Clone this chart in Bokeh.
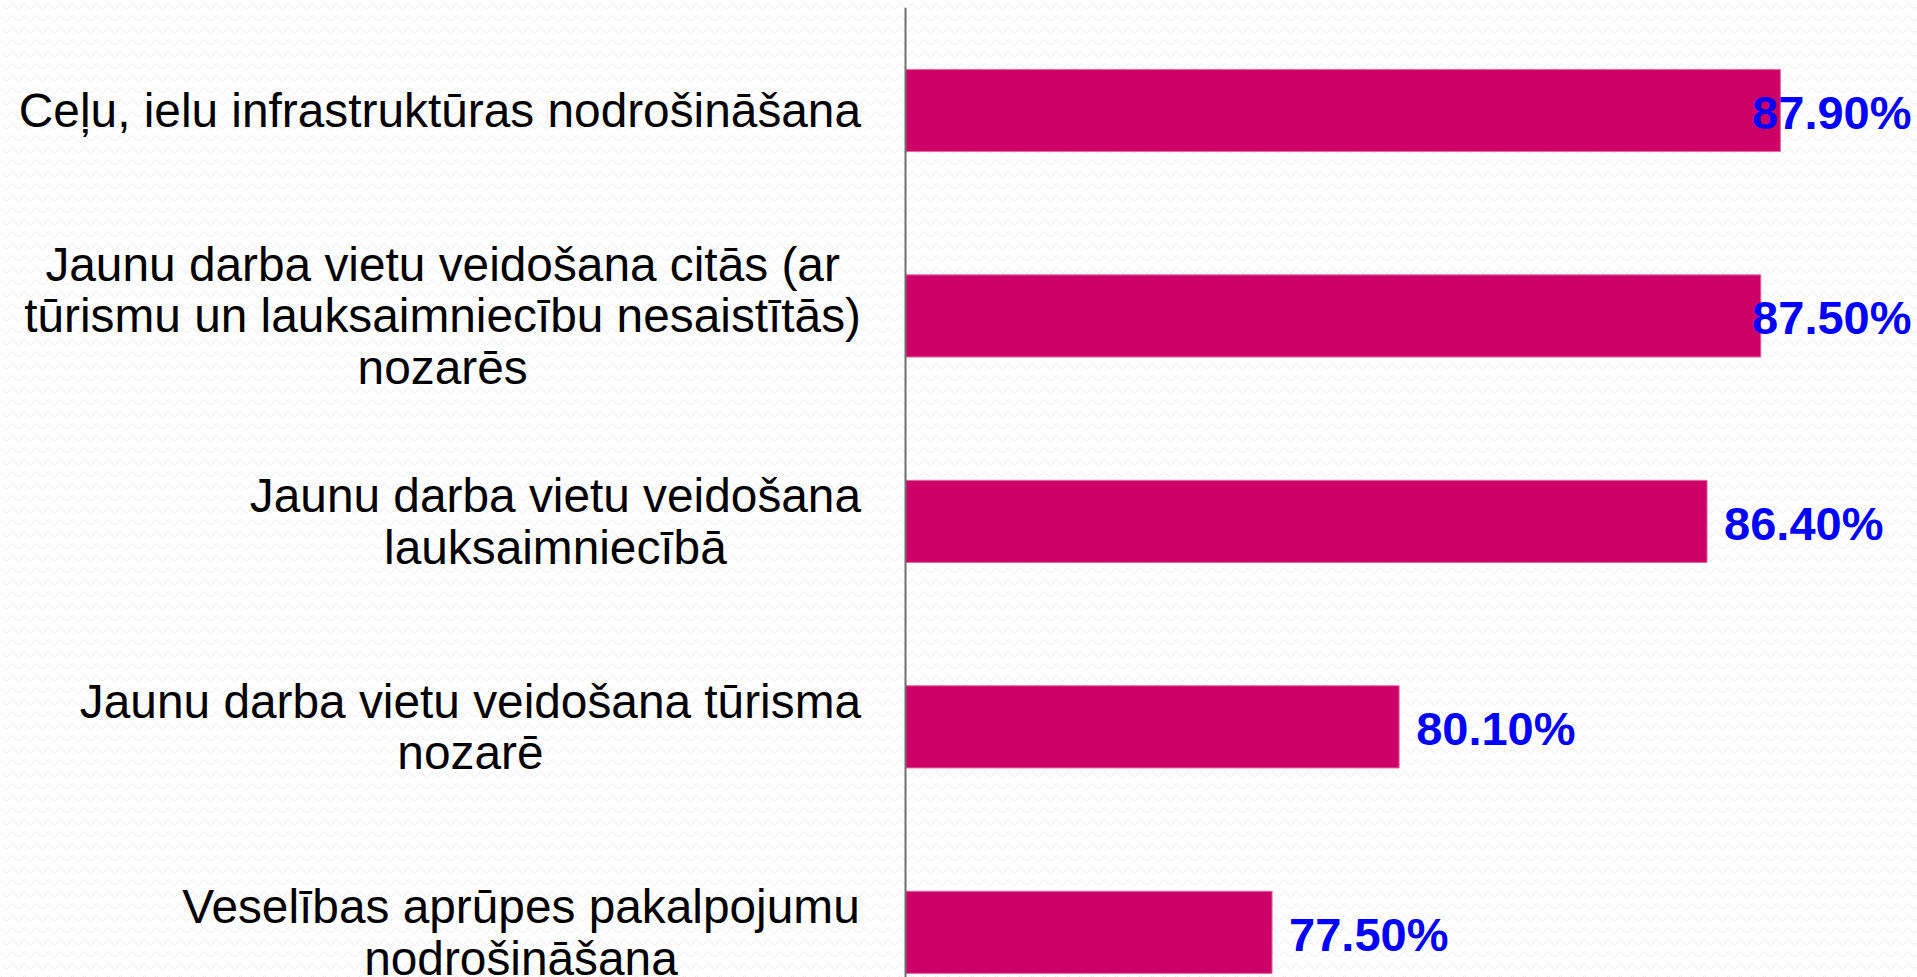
from bokeh.plotting import figure
from bokeh.models import Range1d, BoxAnnotation, ColumnDataSource
from bokeh.core.properties import value
from bokeh.embed import file_html
from bokeh.resources import INLINE

# ---- data ----
categories = [
    "Ceļu, ielu infrastruktūras nodrošināšana",
    "Jaunu darba vietu veidošana citās (ar\ntūrismu un lauksaimniecību nesaistītās)\nnozarēs",
    "Jaunu darba vietu veidošana\nlauksaimniecībā",
    "Jaunu darba vietu veidošana tūrisma\nnozarē",
    "Veselības aprūpes pakalpojumu\nnodrošināšana",
]
values = [87.9, 87.5, 86.4, 80.1, 77.5]
axis_start = 70.0

# ---- layout constants ----
W, H = 1917, 977
AXIS_PX = 905
PX_PER_UNIT = 48.875
BAND_PX = 205.45
FIRST_CENTER_PX = 110
CAT_FONT = 47.8
VAL_FONT = 47
LABEL_RIGHT_PX = 860.5
VAL_GAP_PX = 17
VAL_MAX_RIGHT_PX = 1911

x0 = axis_start - AXIS_PX / PX_PER_UNIT
x1 = axis_start + (W - AXIS_PX) / PX_PER_UNIT
ytop = -FIRST_CENTER_PX / BAND_PX
ybot = (H - FIRST_CENTER_PX) / BAND_PX


def px_to_x(px):
    return x0 + px / PX_PER_UNIT


def x_to_px(x):
    return (x - x0) * PX_PER_UNIT


# Arial / Liberation Sans advance widths (1/1000 em)
REG = {' ': 278, '(': 333, ')': 333, ',': 278, 'C': 722, 'J': 500, 'V': 667,
       'a': 556, 'b': 556, 'c': 500, 'd': 556, 'e': 556, 'f': 278, 'i': 222,
       'j': 222, 'k': 500, 'l': 222, 'm': 833, 'n': 556, 'o': 556, 'p': 556,
       'r': 333, 's': 500, 't': 278, 'u': 556, 'v': 500, 'z': 500, 'ā': 556,
       'ē': 556, 'ī': 278, 'ļ': 222, 'š': 500, 'ū': 556}
BOLD = {'0': 556, '1': 556, '2': 556, '3': 556, '4': 556, '5': 556, '6': 556,
        '7': 556, '8': 556, '9': 556, '.': 278, '%': 889}


def text_w(s, table, size):
    return max(sum(table.get(c, 556) for c in line) for line in s.split("\n")) / 1000 * size


p = figure(width=W, height=H, x_range=Range1d(x0, x1), y_range=Range1d(ybot, ytop),
           output_backend="svg", toolbar_location=None,
           x_axis_location=None, y_axis_location=None, min_border=0,
           outline_line_color=None, background_fill_color="white",
           border_fill_color="white")
p.grid.visible = False

bg = BoxAnnotation(fill_color="white", fill_alpha=1.0, line_color=None,
                   hatch_pattern="horizontal_wave", hatch_color="#ebebeb",
                   hatch_scale=12, hatch_weight=1, level="underlay")
p.add_layout(bg)

idx = list(range(len(categories)))
src = ColumnDataSource(dict(y=idx, v=values))
p.hbar(y="y", left=axis_start, right="v", height=0.4, source=src,
       fill_color="#CC0066", line_color="#E06CA3", line_width=1)

# axis line
p.segment(x0=[axis_start], y0=[-0.5], x1=[axis_start], y1=[len(categories) - 0.5],
          line_color="#6e6e6e", line_width=2)

# category labels (lines centred, block right-aligned next to the axis)
cat_x = [px_to_x(LABEL_RIGHT_PX - text_w(c, REG, CAT_FONT) / 2) for c in categories]
p.text(x=cat_x, y=idx, text=categories, text_align="center", text_baseline="middle",
       text_font=value("Liberation Sans"), text_font_size=f"{CAT_FONT}px",
       text_color="black", text_line_height=0.975)

# value labels
val_text = [f"{v:.2f}%" for v in values]
val_x = []
for v, t in zip(values, val_text):
    w = text_w(t, BOLD, VAL_FONT)
    left = x_to_px(v) + VAL_GAP_PX
    if left + w > VAL_MAX_RIGHT_PX:
        left = VAL_MAX_RIGHT_PX - w
    val_x.append(px_to_x(left))
p.text(x=val_x, y=idx, text=val_text, text_align="left", text_baseline="middle",
       text_font=value("Liberation Sans"), text_font_style="bold",
       text_font_size=f"{VAL_FONT}px", text_color="#0000FF", y_offset=2)

open("out.html", "w").write(file_html(p, INLINE))
